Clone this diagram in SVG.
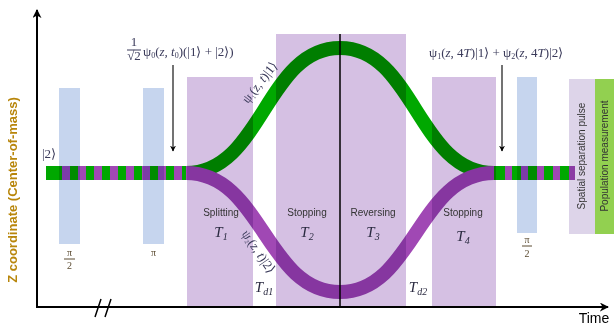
<svg xmlns="http://www.w3.org/2000/svg" width="614" height="326" viewBox="0 0 614 326">
<defs>
<marker id="ah" viewBox="0 0 10 10" refX="9" refY="5" markerWidth="6" markerHeight="6" orient="auto-start-reverse" markerUnits="userSpaceOnUse">
<path d="M0,0 L10,5 L0,10 L3,5 z" fill="#000"/>
</marker>
<marker id="ah2" viewBox="0 0 10 10" refX="9" refY="5" markerWidth="9" markerHeight="9" orient="auto" markerUnits="userSpaceOnUse">
<path d="M0,0 L10,5 L0,10 L3,5 z" fill="#000"/>
</marker>
</defs>
<style>
.axis{stroke:#000;stroke-width:2;fill:none}
.ptr{stroke:#444;stroke-width:1.5;fill:none}
.g{stroke:#00a800;stroke-width:14;fill:none}
.p{stroke:#a048b4;stroke-width:14;fill:none}
.box{fill:#d5c0e3;mix-blend-mode:multiply}
.bar{fill:#c6d5ee;mix-blend-mode:multiply}
.lbl{font-family:"Liberation Sans",Arial,sans-serif;font-size:10px;fill:#333;text-anchor:middle}
.T{font-family:"Liberation Serif","Times New Roman",serif;font-style:italic;font-size:15px;fill:#2a2a40;text-anchor:middle}
.m{font-family:"Liberation Serif","Times New Roman",serif;font-size:13px;fill:#3a3a5a}
.i{font-style:italic}
.pi{font-family:"Liberation Serif","Times New Roman",serif;font-size:10px;fill:#5a4a30;text-anchor:middle}
</style>
<rect width="614" height="326" fill="#fff"/>

<g id="connectors">
<path id="stripe-left-g" class="g" d="M46,173 H190"/>
<path id="stripe-left-p" class="p" d="M62,173 H190" stroke-dasharray="8 8"/>
<path id="stripe-right-g" class="g" d="M490,173 H575"/>
<path id="stripe-right-p" class="p" d="M505,173 H575" stroke-dasharray="7 9"/>
<path id="curve-green" class="g" d="M186,173 C262,173 266,48 340,48 C414,48 418,173 494,173"/>
<path id="curve-purple" class="p" d="M186,173 C262,173 266,292 340,292 C414,292 418,173 494,173"/>
</g>

<g id="pulse1"><rect class="bar" x="59" y="88" width="21" height="156"/>
<text class="pi" x="69.5" y="256">π</text><line x1="64" y1="259" x2="75" y2="259" stroke="#5a4a30" stroke-width="1"/><text class="pi" x="69.5" y="269">2</text></g>
<g id="pulse2"><rect class="bar" x="143" y="88" width="21" height="156"/>
<text class="pi" x="153.5" y="256">π</text></g>
<g id="pulse3"><rect class="bar" x="517" y="77" width="20" height="156"/>
<text class="pi" x="527" y="243">π</text><line x1="522" y1="246" x2="532" y2="246" stroke="#5a4a30" stroke-width="1"/><text class="pi" x="527" y="257">2</text></g>

<g id="splitting"><rect class="box" x="187" y="77" width="66" height="230"/>
<text class="lbl" x="221" y="216">Splitting</text><text class="T" x="221" y="237">T<tspan font-size="10" dy="3">1</tspan></text></g>
<g id="stopping2"><rect class="box" x="276" y="34" width="64" height="273"/>
<text class="lbl" x="307" y="216">Stopping</text><text class="T" x="307" y="237">T<tspan font-size="10" dy="3">2</tspan></text></g>
<g id="reversing"><rect class="box" x="340" y="34" width="66" height="273"/>
<text class="lbl" x="373" y="216">Reversing</text><text class="T" x="373" y="237">T<tspan font-size="10" dy="3">3</tspan></text></g>
<g id="stopping4"><rect class="box" x="432" y="77" width="64" height="230"/>
<text class="lbl" x="463" y="216">Stopping</text><text class="T" x="463" y="241">T<tspan font-size="10" dy="3">4</tspan></text></g>
<line x1="340" y1="34" x2="340" y2="307" stroke="#000" stroke-width="1.5"/>

<g id="spatial"><rect x="569" y="79" width="26" height="155" fill="#ddd4e9" style="mix-blend-mode:multiply"/>
<text class="lbl" font-size="8.5" transform="translate(585,156) rotate(-90)">Spatial separation pulse</text></g>
<g id="population"><rect x="595" y="79" width="19" height="155" fill="#92d050"/>
<text class="lbl" font-size="8.5" transform="translate(608,156) rotate(-90)">Population measurement</text></g>

<g id="labels">
<text class="T" x="264" y="292">T<tspan font-size="10" dy="3">d1</tspan></text>
<text class="T" x="418" y="292">T<tspan font-size="10" dy="3">d2</tspan></text>
<text class="m" font-size="9.5" transform="translate(263,85) rotate(-52)" text-anchor="middle">ψ<tspan font-size="6" dy="2">1</tspan><tspan dy="-2">(</tspan><tspan class="i">z, t</tspan>)|1⟩</text>
<text class="m" font-size="9.5" transform="translate(255,254) rotate(56)" text-anchor="middle">ψ<tspan font-size="6" dy="2">2</tspan><tspan dy="-2">(</tspan><tspan class="i">z, t</tspan>)|2⟩</text>
<text class="m" font-size="9" x="42" y="158" fill="#5a6a9a">|2⟩</text>
<text class="m" font-size="11" x="134" y="46" text-anchor="middle">1</text>
<line x1="127" y1="50" x2="141" y2="50" stroke="#3a3a5a" stroke-width="1"/>
<text class="m" font-size="11" x="134" y="60" text-anchor="middle">√2</text>
<text class="m" x="143" y="56">ψ<tspan font-size="8" dy="2">0</tspan><tspan dy="-2">(</tspan><tspan class="i">z, t</tspan><tspan font-size="8" dy="2">0</tspan><tspan dy="-2">)(|1⟩ + |2⟩)</tspan></text>
<text class="m" x="429" y="57">ψ<tspan font-size="8" dy="2">1</tspan><tspan dy="-2">(</tspan><tspan class="i">z</tspan>, 4<tspan class="i">T</tspan>)|1⟩ + ψ<tspan font-size="8" dy="2">2</tspan><tspan dy="-2">(</tspan><tspan class="i">z</tspan>, 4<tspan class="i">T</tspan>)|2⟩</text>
<line class="ptr" x1="173" y1="65" x2="173" y2="151" marker-end="url(#ah)"/>
<line class="ptr" x1="502" y1="65" x2="502" y2="151" marker-end="url(#ah)"/>
</g>

<g id="axes">
<line class="axis" x1="37" y1="307" x2="37" y2="10" marker-end="url(#ah2)"/>
<line class="axis" x1="36" y1="307" x2="608" y2="307" marker-end="url(#ah2)"/>
<line x1="95" y1="317" x2="101" y2="299" stroke="#000" stroke-width="1.5"/>
<line x1="105" y1="317" x2="111" y2="299" stroke="#000" stroke-width="1.5"/>
<text x="12" y="190" transform="rotate(-90 12 190)" text-anchor="middle" dominant-baseline="central" font-family="'Liberation Sans',Arial,sans-serif" font-size="13" font-weight="bold" fill="#b8860b">Z coordinate (Center-of-mass)</text>
<text x="594" y="323" text-anchor="middle" font-family="'Liberation Sans',Arial,sans-serif" font-size="14" fill="#000">Time</text>
</g>
</svg>
